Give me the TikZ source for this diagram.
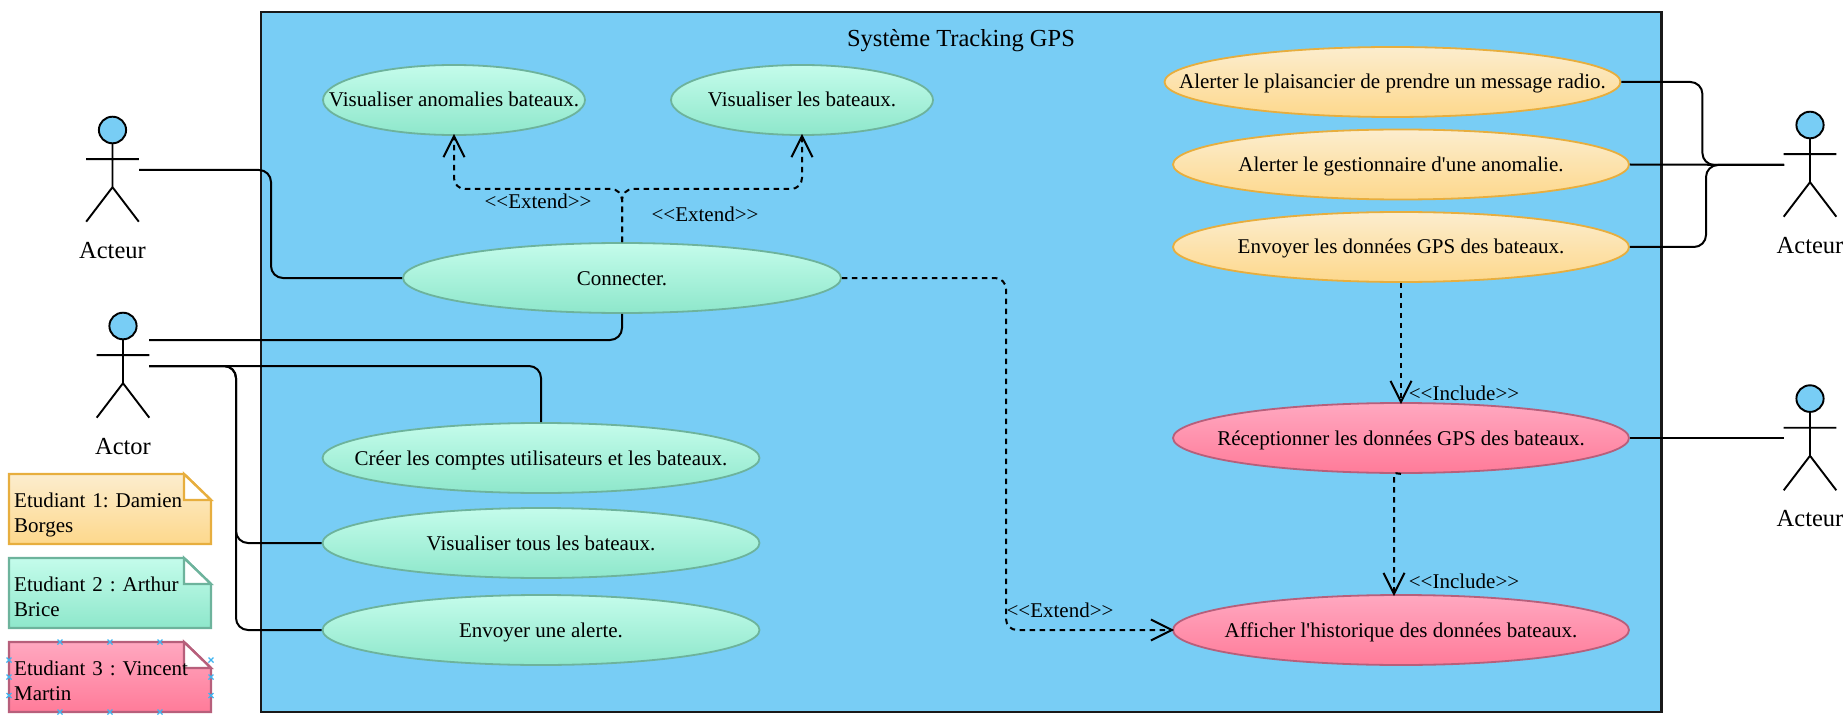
\documentclass[tikz,border=0pt]{standalone}
\usepackage{fontspec}
\setmainfont{Liberation Serif}
\usetikzlibrary{shapes.geometric,arrows.meta,calc,backgrounds}
\definecolor{skyfill}{HTML}{78CDF5}
\definecolor{gtop}{HTML}{C4FCEB}\definecolor{gbot}{HTML}{8EE7CB}\definecolor{gline}{HTML}{6DB39C}
\definecolor{otop}{HTML}{FCEDCE}\definecolor{obot}{HTML}{FDD88C}\definecolor{oline}{HTML}{E7AE3E}
\definecolor{ptop}{HTML}{FFA8C0}\definecolor{pbot}{HTML}{FF7B99}\definecolor{pline}{HTML}{B75F7B}
\definecolor{markblue}{HTML}{3FB4F0}
\newcommand{\ctext}[1]{\makebox[0pt]{#1}}
\newcommand{\fs}{\fontsize{21}{25}\selectfont}
\newcommand{\fb}{\fontsize{24.5}{29}\selectfont}
\frenchspacing
\tikzset{
 x=1pt,y=-1pt,
 usecase/.style={ellipse,inner sep=0pt,minimum width=#1,minimum height=70pt,line width=1.8pt,font=\fs,shade,shading angle=0,text height=16pt,text depth=2pt},
 gcase/.style={usecase=#1,draw=gline,top color=gtop,bottom color=gbot},
 ocase/.style={usecase=#1,draw=oline,top color=otop,bottom color=obot},
 pcase/.style={usecase=#1,draw=pline,top color=ptop,bottom color=pbot},
 assoc/.style={draw=black,line width=2pt,rounded corners=12pt},
 dep/.style={draw=black,line width=2pt,rounded corners=11pt,dash pattern=on 5.5pt off 4.5pt},
 deptip/.style={-{Straight Barb[length=21pt,width=21pt,line width=2pt]},shorten >=-2pt},
 actorline/.style={draw=black,line width=1.9pt},
 tag/.style={font=\fs,inner sep=0pt,text=black},
 bigtext/.style={font=\fb,inner sep=0pt},
 notetext/.style={font=\fs,inner sep=0pt,align=left,anchor=north west,text width=196pt},
 notebody/.style={line width=2.4pt,shade,shading angle=0},
 notefold/.style={fill=white,line width=2.4pt},
 selmark/.style={draw=markblue,line width=1.1pt},
}
\newcommand{\actor}[5]{% name, cx, headtop, armhalf, label
 \draw[actorline,fill=skyfill] (#2,#3+13.3) ellipse [x radius=13.6, y radius=13.3];
 \draw[actorline] (#2,#3+26.6) -- (#2,#3+70.5) (#2-#4,#3+42.4) -- (#2+#4,#3+42.4)
   (#2-#4,#3+105) -- (#2,#3+70.5) -- (#2+#4,#3+105);
 \node[bigtext] (#1) at (#2,#3+133.5) {#5};
}
\newcommand{\notebox}[4]{% top, top colour, bottom colour/line, text name
 \draw[notebody,draw=#4,top color=#2,bottom color=#3] (9,#1) -- (184,#1) -- (211,#1+26) -- (211,#1+70) -- (9,#1+70) -- cycle;
 \draw[notefold,draw=#4] (184,#1) -- (211,#1+26) -- (184,#1+26) -- cycle;
}
\newcommand{\smark}[2]{\draw[selmark] (#1-2.5,#2-2.5) -- (#1+2.5,#2+2.5) (#1-2.5,#2+2.5) -- (#1+2.5,#2-2.5);}
\begin{document}
\begin{tikzpicture}
\useasboundingbox (0,0) rectangle (1846,719);
\node[draw=black!90,line width=2.4pt,fill=skyfill,minimum width=1400.5pt,minimum height=700pt,inner sep=0pt,anchor=north west] (frame) at (259.8,10.8) {};
\node[bigtext] (title) at (961,41) {Système Tracking GPS};

% use cases
\node[gcase=262pt] (anom) at (454,100) {\ctext{Visualiser anomalies bateaux.}};
\node[gcase=262pt] (vbat) at (802,100) {\ctext{Visualiser les bateaux.}};
\node[gcase=438pt] (conn) at (622,278) {\ctext{Connecter.}};
\node[gcase=437pt] (creer) at (541,458) {\ctext{Créer les comptes utilisateurs et les bateaux.}};
\node[gcase=437pt] (vtous) at (541,543) {\ctext{Visualiser tous les bateaux.}};
\node[gcase=437pt] (alerte) at (541,630) {\ctext{Envoyer une alerte.}};
\node[ocase=456pt] (plais) at (1392.5,82) {\ctext{Alerter le plaisancier de prendre un message radio.}};
\node[ocase=456pt] (gest) at (1401,164.5) {\ctext{Alerter le gestionnaire d\textquotesingle une anomalie.}};
\node[ocase=456pt] (envoi) at (1401,247) {\ctext{Envoyer les données GPS des bateaux.}};
\node[pcase=456pt] (recep) at (1401,438) {\ctext{Réceptionner les données GPS des bateaux.}};
\node[pcase=456pt] (hist) at (1401,630) {\ctext{Afficher l\textquotesingle historique des données bateaux.}};

% actors
\actor{la}{112.5}{116.7}{26.3}{Acteur}
\actor{lb}{123}{312.7}{26.3}{Actor}
\actor{ra}{1810}{111.7}{26.3}{Acteur}
\actor{rb}{1810}{385.3}{26.3}{Acteur}
\coordinate (laport) at (139,170);
\coordinate (lbtop) at (149,340);
\coordinate (lbbot) at (149,366);
\coordinate (raport) at (1784,165);
\coordinate (rbport) at (1784,438);
\coordinate (busa) at (271,0);
\coordinate (busb) at (236,0);
\coordinate (busc) at (1702.4,0);
\coordinate (busd) at (1706,0);

% associations
\draw[assoc] (laport) -- (laport -| busa) -- (busa |- conn.west) -- (conn.west);
\draw[assoc] (lbtop) -- (lbtop -| conn.south) -- (conn.south);
\draw[assoc] (lbbot) -- (lbbot -| creer.north) -- (creer.north);
\draw[assoc] (lbbot) -- (lbbot -| busb) -- (busb |- vtous.west) -- (vtous.west);
\draw[assoc] (lbbot) -- (lbbot -| busb) -- (busb |- alerte.west) -- (alerte.west);
\draw[assoc] (plais.east) -- (plais.east -| busc) -- (busc |- raport) -- (raport);
\draw[assoc] (gest.east) -- (raport);
\draw[assoc] (envoi.east) -- (envoi.east -| busd) -- (busd |- raport) -- (raport);
\draw[assoc] (recep.east) -- (rbport);

% dependencies
\coordinate (split) at (622,189);
\coordinate (busx) at (1006,0);
\coordinate (recepout) at (1394,473);
\draw[dep,deptip] (conn.north) -- (split) -- (split -| anom.south) -- (anom.south);
\draw[dep,deptip] (conn.north) -- (split) -- (split -| vbat.south) -- (vbat.south);
\draw[dep,deptip] (conn.east) -- (conn.east -| busx) -- (busx |- hist.west) -- (hist.west);
\draw[dep,deptip] (envoi.south) -- (recep.north);
\draw[dep,deptip,rounded corners=2pt] (recep.south) -- (recepout) -- (recepout |- hist.north);

% labels
\node[tag] (ext1) at (538,201) {<{}<Extend>{}>};
\node[tag] (ext2) at (705,214) {<{}<Extend>{}>};
\node[tag] (ext3) at (1060,610) {<{}<Extend>{}>};
\node[tag] (inc1) at (1464,393) {<{}<Include>{}>};
\node[tag] (inc2) at (1464,581) {<{}<Include>{}>};

% notes
\notebox{474}{otop}{obot}{oline}
\notebox{558}{gtop}{gbot}{gline}
\notebox{642}{ptop}{pbot}{pline}
\node[notetext] (n1) at (14,493) {Etudiant 1: Damien\\Borges};
\node[notetext] (n2) at (14,577) {Etudiant 2 : Arthur\\Brice};
\node[notetext] (n3) at (14,661) {Etudiant 3 : Vincent\\Martin};
\foreach \mx in {60,110,160}{\smark{\mx}{642}\smark{\mx}{712}}
\foreach \my in {660,677,695.5}{\smark{9}{\my}\smark{211}{\my}}
\end{tikzpicture}
\end{document}
